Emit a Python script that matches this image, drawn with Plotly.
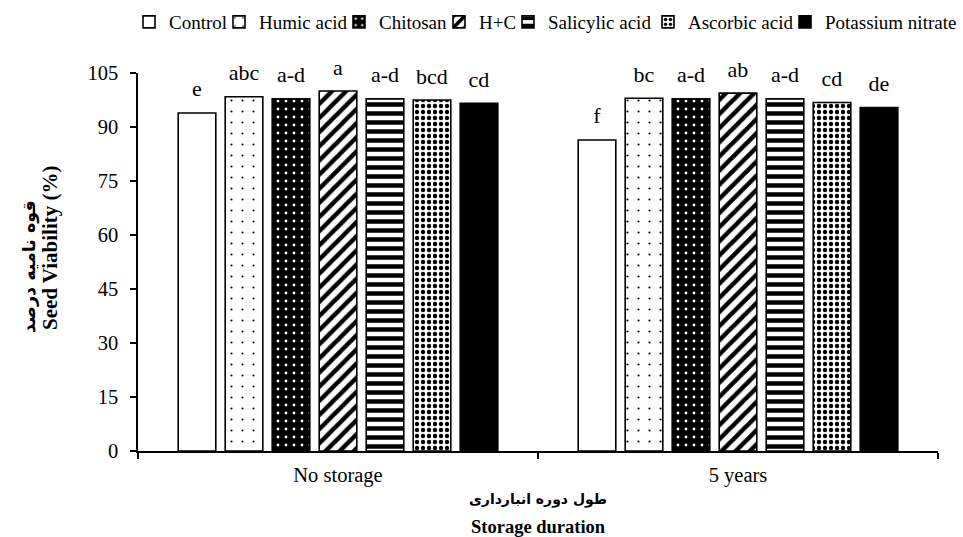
import plotly.graph_objects as go

# Storage duration categories on the x axis
durations = ["No storage", "5 years"]

# Seed viability (%) per seed treatment, one value per storage duration
control = [93.9, 86.4]
humic_acid = [98.4, 98.0]
chitosan = [97.8, 97.8]
humic_chitosan = [100.0, 99.4]
salicylic_acid = [97.8, 97.8]
ascorbic_acid = [97.5, 96.8]
potassium_nitrate = [96.6, 95.4]

# Mean-comparison letters shown above each bar
control_letters = ["e", "f"]
humic_acid_letters = ["abc", "bc"]
chitosan_letters = ["a-d", "a-d"]
humic_chitosan_letters = ["a", "ab"]
salicylic_acid_letters = ["a-d", "a-d"]
ascorbic_acid_letters = ["bcd", "cd"]
potassium_nitrate_letters = ["cd", "de"]

y_ticks = [0, 15, 30, 45, 60, 75, 90, 105]

series = [
    ("Control", control, control_letters),
    ("Humic acid", humic_acid, humic_acid_letters),
    ("Chitosan", chitosan, chitosan_letters),
    ("H+C", humic_chitosan, humic_chitosan_letters),
    ("Salicylic acid", salicylic_acid, salicylic_acid_letters),
    ("Ascorbic acid", ascorbic_acid, ascorbic_acid_letters),
    ("Potassium nitrate", potassium_nitrate, potassium_nitrate_letters),
]

# Black-and-white fill styles for each treatment
patterns = [
    dict(shape="", bgcolor="white", fgcolor="black"),
    dict(shape=".", bgcolor="white", fgcolor="black", size=11, solidity=0.03, fillmode="replace"),
    dict(shape=".", bgcolor="black", fgcolor="white", size=8, solidity=0.1, fillmode="replace"),
    dict(shape="/", bgcolor="white", fgcolor="black", size=10, solidity=0.45, fillmode="replace"),
    dict(shape="-", bgcolor="white", fgcolor="black", size=9, solidity=0.5, fillmode="replace"),
    dict(shape=".", bgcolor="white", fgcolor="black", size=6, solidity=0.42, fillmode="replace"),
    dict(shape="", bgcolor="black", fgcolor="black"),
]
fill_colors = ["white", "white", "black", "white", "white", "white", "black"]
# Tight legend spacing: per-entry widths so the entries sit close together
legend_widths = [45, 75, 55, 24, 95, 92, 134]

SERIF = "Liberation Serif"
PERSIAN = "DejaVu Sans"

fig = go.Figure()

for (name, values, _), pat, fc, lw in zip(series, patterns, fill_colors, legend_widths):
    fig.add_trace(go.Bar(
        x=durations, y=values, name=name,
        marker=dict(color=fc, line=dict(color="black", width=1.6), pattern=pat),
        legendwidth=lw,
    ))

for name, values, letters in series:
    fig.add_trace(go.Scatter(
        x=durations, y=values, mode="markers+text", text=letters,
        textposition="top center", showlegend=False, hoverinfo="skip",
        marker=dict(size=16, opacity=0), cliponaxis=False,
        textfont=dict(family=SERIF, size=22, color="black"),
    ))

fig.update_layout(
    width=963, height=537,
    margin=dict(l=138, r=25, t=73, b=86, autoexpand=False),
    paper_bgcolor="white", plot_bgcolor="white",
    barmode="group", bargap=0.1775, bargroupgap=0.2,
    scattermode="group", scattergap=0.1775,
    font=dict(family=SERIF, size=20, color="black"),
    showlegend=True,
    legend=dict(
        orientation="h", x=-0.01125, xanchor="left", y=1.185, yanchor="top",
        font=dict(family=SERIF, size=19, color="black"),
        bgcolor="rgba(0,0,0,0)", borderwidth=0,
    ),
    xaxis=dict(
        showline=True, linecolor="black", linewidth=1.5,
        ticks="outside", tickson="boundaries", ticklen=6, tickwidth=1.5, tickcolor="black",
        showgrid=False, ticklabelstandoff=5,
        tickfont=dict(family=SERIF, size=20.5, color="black"),
    ),
    yaxis=dict(
        range=[0, 105], tickvals=y_ticks, showline=True, linecolor="black", linewidth=1.5,
        ticks="outside", ticklen=6, tickwidth=1.5, tickcolor="black",
        showgrid=False, zeroline=False, ticklabelstandoff=8,
        tickfont=dict(family=SERIF, size=20.5, color="black"),
    ),
    annotations=[
        dict(text="<b>طول دوره انبارداری</b>", xref="paper", yref="paper", x=0.5, y=-0.127,
             showarrow=False, xanchor="center", yanchor="middle",
             font=dict(family=PERSIAN, size=14, color="black")),
        dict(text="<b>Storage duration</b>", xref="paper", yref="paper", x=0.5, y=-0.201,
             showarrow=False, xanchor="center", yanchor="middle",
             font=dict(family=SERIF, size=18.5, color="black")),
        dict(text="<b>قوه نامیه درصد</b>", xref="paper", yref="paper", x=-0.135, y=0.4868,
             showarrow=False, xanchor="center", yanchor="middle", textangle=-90,
             font=dict(family=PERSIAN, size=17.5, color="black")),
        dict(text="<b>Seed Viability (%)</b>", xref="paper", yref="paper", x=-0.11, y=0.537,
             showarrow=False, xanchor="center", yanchor="middle", textangle=-90,
             font=dict(family=SERIF, size=21, color="black")),
    ],
)

fig.write_html("out.html")
